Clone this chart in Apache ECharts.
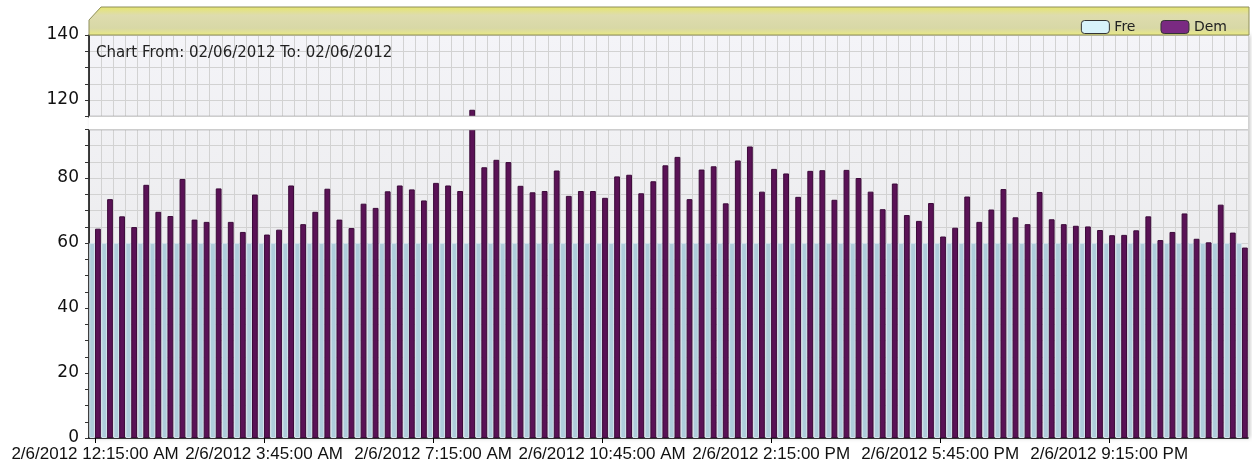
<!DOCTYPE html>
<html>
<head>
<meta charset="utf-8">
<script src="https://cdn.jsdelivr.net/npm/echarts@6/dist/echarts.min.js"></script>
<style>html,body{margin:0;padding:0;background:#fff}#c{width:1252px;height:469px}</style>
</head>
<body>
<div id="c"></div>
<script>
// x categories: 15-minute intervals on 2/6/2012
const categories = [];
for (let i = 0; i < 96; i++) {
  const m = 15 + i * 15;
  const h = Math.floor(m / 60) % 24;
  const mm = m % 60;
  const ampm = h < 12 ? 'AM' : 'PM';
  const h12 = h % 12 === 0 ? 12 : h % 12;
  categories.push('2/6/2012 ' + h12 + ':' + String(mm).padStart(2, '0') + ':00 ' + ampm);
}

const freValues = [
  60,60,60,60,60,60,60,60,60,60,60,60,
  60,60,60,60,60,60,60,60,60,60,60,60,
  60,60,60,60,60,60,60,60,60,60,60,60,
  60,60,60,60,60,60,60,60,60,60,60,60,
  60,60,60,60,60,60,60,60,60,60,60,60,
  60,60,60,60,60,60,60,60,60,60,60,60,
  60,60,60,60,60,60,60,60,60,60,60,60,
  60,60,60,60,60,60,60,60,60,60,60,60
];

const demValues = [
  64.4, 73.5, 68.2, 64.9, 77.9, 69.6, 68.3, 79.7, 67.2, 66.5, 76.8, 66.5,
  63.4, 74.9, 62.6, 64.1, 77.7, 65.8, 69.6, 76.7, 67.2, 64.6, 72.1, 70.8,
  75.9, 77.7, 76.5, 73.1, 78.5, 77.7, 76.0, 117,
  83.3, 85.6, 84.9, 77.6, 75.6, 76.0, 82.3, 74.5, 76.0, 76.0, 73.9, 80.5,
  81.0, 75.3, 79.0, 83.9, 86.5, 73.5, 82.6, 83.6, 72.2, 85.4, 89.7, 75.8,
  82.8, 81.4, 74.2, 82.2, 82.4, 73.3, 82.5, 80.0,
  75.8, 70.4, 78.3, 68.6, 66.8, 72.3, 62.0, 64.7, 74.3, 66.5, 70.3, 76.6,
  67.9, 65.8, 75.7, 67.3, 65.8, 65.3, 65.1, 64.0, 62.4, 62.5, 63.9, 68.2,
  60.9, 63.4, 69.1, 61.3, 60.2, 71.8, 63.2, 58.6
];

const titleText = 'Chart From: 02/06/2012 To: 02/06/2012';
const seriesNames = ['Fre', 'Dem'];

const chart = echarts.init(document.getElementById('c'), null, {renderer: 'canvas'});

const headerFill = new echarts.graphic.LinearGradient(0, 0, 0, 1, [
  {offset: 0, color: '#e6e66c'},
  {offset: 0.3, color: '#dedcae'},
  {offset: 0.75, color: '#d8d8a6'},
  {offset: 1, color: '#eaea80'}
]);

chart.setOption({
  animation: false,
  backgroundColor: '#ffffff',
  title: {
    text: titleText,
    left: 91,
    top: 41,
    textStyle: {fontFamily: 'DejaVu Sans', fontSize: 15, fontWeight: 'normal', color: '#222'}
  },
  legend: {
    right: 20,
    top: 15,
    itemWidth: 28,
    itemHeight: 13,
    itemGap: 25,
    icon: 'roundRect',
    textStyle: {fontFamily: 'DejaVu Sans', fontSize: 14, color: '#222'},
    data: [
      {name: 'Fre', itemStyle: {color: '#d8f2fa', borderColor: '#333', borderWidth: 1}},
      {name: 'Dem', itemStyle: {color: '#7a2a82', borderColor: '#333', borderWidth: 1}}
    ]
  },
  graphic: [{
    type: 'polygon',
    z: 1,
    shape: {points: [[89, 20], [101, 7], [1249, 7], [1249, 35], [89, 35]]},
    style: {fill: headerFill, stroke: '#8f8f5a', lineWidth: 1}
  }],
  grid: {
    left: 89, right: 4, top: 35, bottom: 31,
    show: true,
    borderWidth: 0,
    backgroundColor: new echarts.graphic.LinearGradient(0, 0, 0, 1, [
      {offset: 0, color: '#f4f4f8'},
      {offset: 1, color: '#e6e6e6'}
    ]),
    shadowColor: 'rgba(0,0,0,0.25)',
    shadowBlur: 4,
    shadowOffsetX: 2
  },
  xAxis: {
    type: 'category',
    data: categories,
    boundaryGap: true,
    axisLine: {show: true, lineStyle: {color: '#000', width: 1.5}},
    axisTick: {show: true, interval: 13, alignWithLabel: true, length: 5, lineStyle: {color: '#000'}},
    axisLabel: {interval: 13, margin: 8, fontFamily: 'Liberation Sans', fontSize: 17, color: '#111'},
    splitLine: {show: true, interval: 0, lineStyle: {color: '#d2d2d2', width: 1}}
  },
  yAxis: {
    type: 'value',
    min: 0, max: 140, interval: 5,
    breaks: [{start: 95, end: 115, gap: 4}],
    breakArea: {
      show: true,
      expandOnClick: false,
      zigzagAmplitude: 0,
      itemStyle: {color: '#ffffff', borderColor: '#9a9a9a', borderWidth: 1.5, borderType: 'solid', opacity: 1}
    },
    axisLine: {show: true, lineStyle: {color: '#000', width: 1.5}},
    axisTick: {show: true, length: 4, lineStyle: {color: '#333'}},
    axisLabel: {
      margin: 10, fontFamily: 'DejaVu Sans', fontSize: 17, color: '#111',
      formatter: function (v) { return v % 20 === 0 ? String(v) : ''; }
    },
    splitLine: {show: true, lineStyle: {color: '#d2d2d2'}}
  },
  series: [
    {
      name: seriesNames[0],
      type: 'bar',
      data: freValues,
      barGap: '0%',
      barCategoryGap: '4%',
      itemStyle: {color: '#afcddb', borderColor: '#d4e2ec', borderWidth: 1}
    },
    {
      name: seriesNames[1],
      type: 'bar',
      data: demValues,
      itemStyle: {color: '#5a1256', borderColor: '#3c0a3a', borderWidth: 1}
    }
  ]
});
</script>
</body>
</html>
